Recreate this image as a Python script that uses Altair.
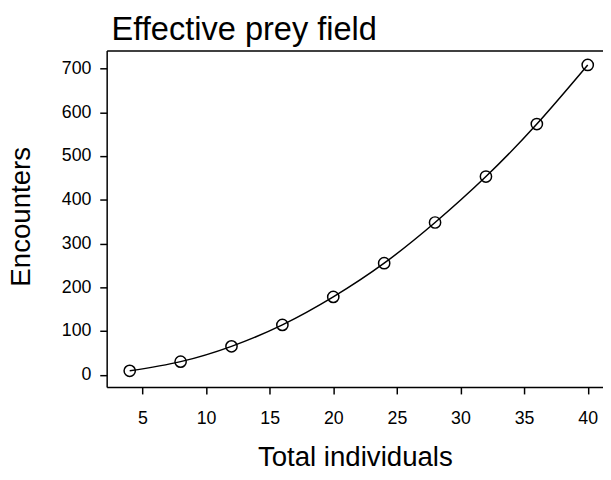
import altair as alt
import pandas as pd

individuals = [4, 8, 12, 16, 20, 24, 28, 32, 36, 40]
encounters = [9, 30, 65, 114, 178, 255, 348, 453, 573, 708]
x_ticks = [5, 10, 15, 20, 25, 30, 35, 40]
y_ticks = [0, 100, 200, 300, 400, 500, 600, 700]

df = pd.DataFrame({"n": individuals, "enc": encounters})

FONT = "Liberation Sans"
xscale = alt.Scale(domain=[2.19, 41.2], nice=False, zero=False)
yscale = alt.Scale(domain=[-28, 741], nice=False, zero=False)

x_bottom = alt.X("n:Q", scale=xscale, axis=alt.Axis(
    values=x_ticks, title="Total individuals", titleFontSize=28, titleY=72,
    titleBaseline="middle", labelFontSize=18, labelPadding=16, grid=False))
y_left = alt.Y("enc:Q", scale=yscale, axis=alt.Axis(
    values=y_ticks, title="Encounters", titleFontSize=28, titleX=-86, titleY=168,
    titleBaseline="middle", labelFontSize=18, labelPadding=9, grid=False))

line = alt.Chart(df).mark_line(
    interpolate="natural", color="black", strokeWidth=1.5
).encode(x=x_bottom, y=y_left)

pts = alt.Chart(df).mark_point(
    shape="circle", filled=False, color="black", size=130, strokeWidth=1.5, opacity=1
).encode(x=alt.X("n:Q", scale=xscale, axis=None),
         y=alt.Y("enc:Q", scale=yscale, axis=None))

top = alt.Chart(df).mark_point(opacity=0).encode(
    x=alt.X("n:Q", scale=xscale, axis=alt.Axis(
        orient="top", labels=False, ticks=False, title=None, grid=False, domain=True)),
    y=alt.Y("enc:Q", scale=yscale, axis=None),
)

chart = alt.layer(line, pts, top).resolve_axis(x="independent", y="independent").properties(
    width=503, height=341,
    autosize=alt.AutoSizeParams(type="none"),
    padding={"left": 100, "top": 40, "right": 0, "bottom": 83},
    title=alt.TitleParams("Effective prey field", anchor="start", frame="group", dx=5,
                          fontSize=33, font=FONT, fontWeight="normal",
                          color="black", offset=4),
).configure_view(stroke=None).configure_axis(
    labelFont=FONT, titleFont=FONT, titleFontWeight="normal",
    labelColor="black", titleColor="black", domainColor="black",
    tickColor="black", domainWidth=1.5, tickWidth=1.5, tickSize=7,
)

chart.save("out.html", embed_options={"renderer": "svg", "actions": False})
